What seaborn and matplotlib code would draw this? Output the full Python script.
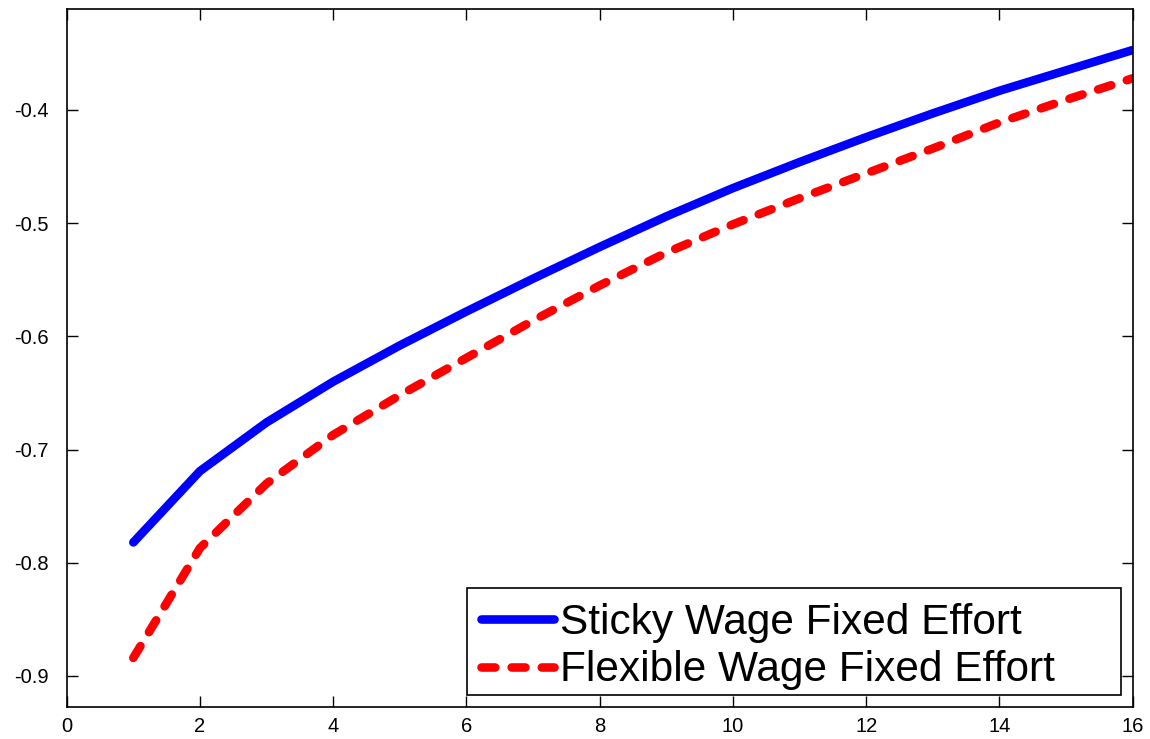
import matplotlib
matplotlib.use("Agg")
import matplotlib.pyplot as plt
from matplotlib.patches import Rectangle
import seaborn as sns
import pandas as pd

periods = list(range(1, 17))
sticky_wage = [-0.782, -0.719, -0.676, -0.640, -0.608, -0.578, -0.549, -0.521,
               -0.494, -0.469, -0.446, -0.424, -0.403, -0.383, -0.365, -0.347]
flexible_wage = [-0.884, -0.787, -0.730, -0.687, -0.652, -0.619, -0.586, -0.555,
                 -0.526, -0.501, -0.478, -0.456, -0.434, -0.411, -0.391, -0.372]
labels = ["Sticky Wage Fixed Effort", "Flexible Wage Fixed Effort"]
x_ticks = [0, 2, 4, 6, 8, 10, 12, 14, 16]
y_ticks = [-0.9, -0.8, -0.7, -0.6, -0.5, -0.4]

sns.set_theme(style="white")
plt.rcParams["font.family"] = ["Liberation Sans", "DejaVu Sans"]
plt.rcParams["axes.unicode_minus"] = False
plt.rcParams["text.color"] = "black"

df = pd.DataFrame({"period": periods, "sticky": sticky_wage, "flex": flexible_wage})

fig = plt.figure(figsize=(11.5, 7.39), dpi=100)
ax = fig.add_axes([0.058, 0.0433, 0.927, 0.9445])

sns.lineplot(data=df, x="period", y="sticky", ax=ax, color="#0000ff", lw=6.2,
             solid_capstyle="round", label=labels[0])
sns.lineplot(data=df, x="period", y="flex", ax=ax, color="#ff0000", lw=6.2,
             linestyle=(0, (1.6, 1.9)), dash_capstyle="round", label=labels[1])

ax.set_xlim(0, 16)
ax.set_ylim(-0.9274, -0.3108)
ax.set_xticks(x_ticks)
ax.set_xticklabels([str(t) for t in x_ticks])
ax.set_yticks(y_ticks)
ax.set_yticklabels([f"{t:.1f}" for t in y_ticks])
ax.set_xlabel("")
ax.set_ylabel("")

for s in ax.spines.values():
    s.set_color("black")
    s.set_linewidth(1.2)

ax.tick_params(axis="both", direction="in", length=8, width=1, color="black",
               labelsize=14.5, labelcolor="black",
               top=True, right=True, bottom=True, left=True)
ax.tick_params(axis="x", pad=7)
ax.tick_params(axis="y", pad=13)

# legend frame (MATLAB-style box with extra right padding)
ax.add_patch(Rectangle((0.3755, 0.0172), 0.989 - 0.3755, 0.1705 - 0.0172,
                       transform=ax.transAxes, facecolor="white", edgecolor="black",
                       linewidth=1.2, zorder=4.5))

leg = ax.legend(loc="lower left", bbox_to_anchor=(0.384, 0.0165), borderaxespad=0,
                fontsize=30.5, frameon=False,
                handlelength=1.72, handletextpad=0.15, borderpad=0.12,
                labelspacing=0.17)
leg.set_zorder(5)
for t in leg.get_texts():
    t.set_color("black")

fig.savefig("out.png", dpi=100)
